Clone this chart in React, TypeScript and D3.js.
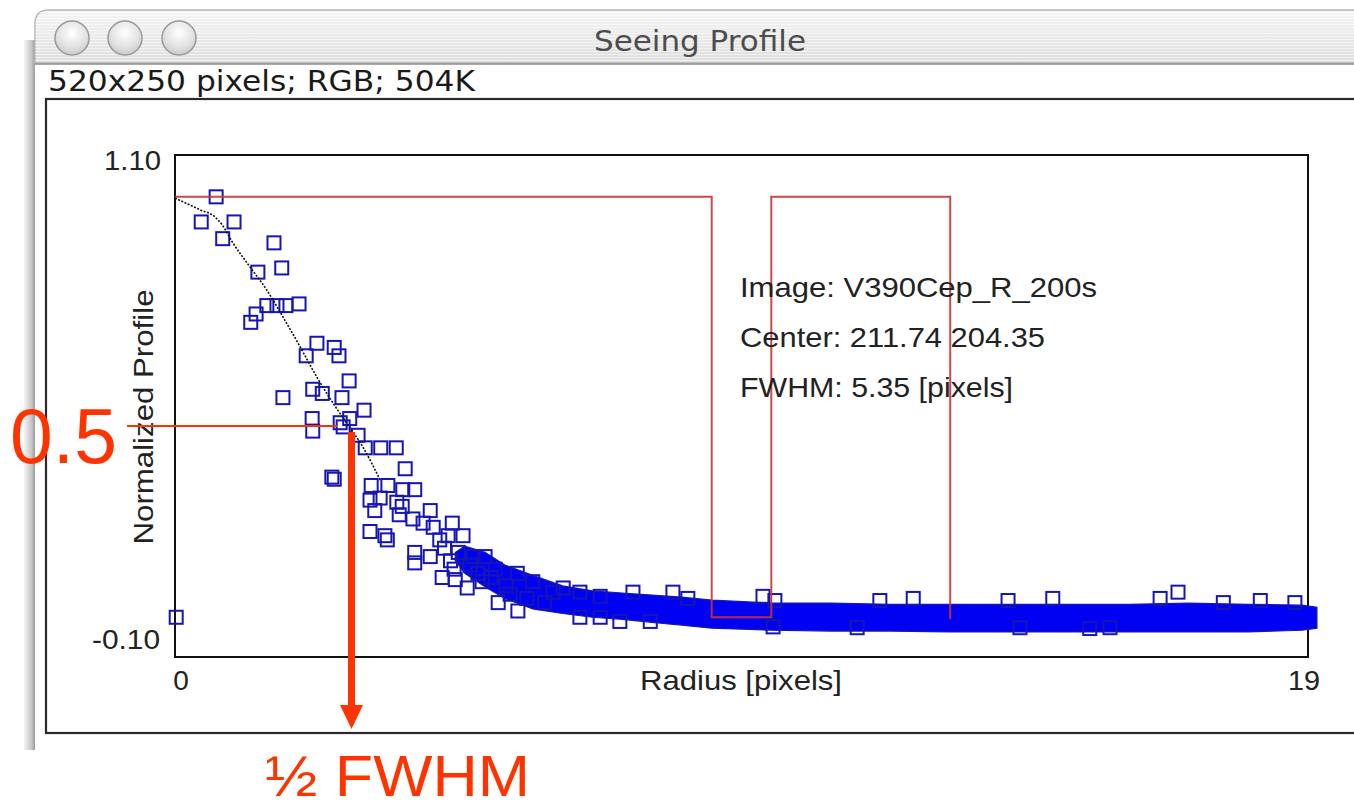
import React from "react";
import * as d3 from "d3";

// ---------------- data ----------------
const xDomain = [0, 19];
const yDomain = [-0.1, 1.1];
const xTickLabels = ["0", "19"];
const yTickLabels = ["1.10", "-0.10"];

// individual profile samples (radius, normalized value)
const sampleR = [
  0.69, 0.44, 0.99, 0.8, 1.66, 1.79, 1.39, 1.54, 1.36, 1.27, 1.71, 1.86, 2.08, 2.38, 2.67, 2.2, 2.75, 2.92,
  1.81, 2.31, 2.47, 2.8, 3.17, 2.3, 2.31, 2.93, 2.77, 2.82, 3.07, 3.19, 3.45, 3.71, 2.63, 2.67, 3.86, 3.29,
  3.57, 3.82, 4.02, 3.27, 3.44, 3.72, 3.81, 3.35, 3.76, 4.28, 3.27, 3.52, 3.56, 3.99, 4.16, 4.33, 4.65, 4.02,
  4.02, 4.44, 4.58, 4.83, 4.28, 4.48, 4.7, 4.9, 5.0, 5.2, 5.37, 5.42, 5.75, 5.74, 6.0, 6.34, 6.51, 6.79,
  7.13, 7.68, 8.35, 6.79, 7.13, 7.46, 7.97, 0.02,
  4.52, 4.62, 4.75, 4.95, 5.08, 5.3, 5.55, 4.68, 5.15, 5.62, 5.9, 6.2,
  8.6, 9.86, 10.06, 11.82, 12.38, 13.97, 14.72, 16.52, 16.82, 17.58, 18.2, 18.78,
  10.03, 11.44, 14.17, 15.34, 15.68,
];
const sampleV = [
  1.0, 0.94, 0.94, 0.9, 0.89, 0.83, 0.82, 0.74, 0.72, 0.7, 0.74, 0.74, 0.744, 0.65, 0.64, 0.62, 0.62, 0.56,
  0.52, 0.54, 0.53, 0.52, 0.49, 0.47, 0.44, 0.47, 0.46, 0.45, 0.43, 0.4, 0.4, 0.4, 0.33, 0.325, 0.35, 0.31,
  0.31, 0.3, 0.3, 0.275, 0.28, 0.27, 0.26, 0.25, 0.24, 0.25, 0.2, 0.19, 0.18, 0.23, 0.22, 0.21, 0.22, 0.15,
  0.125, 0.18, 0.19, 0.19, 0.14, 0.09, 0.085, 0.065, 0.14, 0.14, 0.11, 0.03, 0.01, 0.1, 0.08, 0.055, 0.065, 0.055,
  0.045, 0.055, 0.055, -0.005, -0.005, -0.015, -0.015, -0.005,
  0.16, 0.13, 0.15, 0.12, 0.1, 0.09, 0.07, 0.11, 0.08, 0.05, 0.04, 0.03,
  0.04, 0.045, 0.035, 0.035, 0.04, 0.035, 0.04, 0.04, 0.055, 0.03, 0.035, 0.03,
  -0.028, -0.03, -0.03, -0.032, -0.03,
];

// dense background band of overlapping samples (outer edges)
const bandR = [4.7, 4.86, 5.2, 5.53, 6.0, 6.5, 7.0, 7.5, 8.0, 8.5, 9.0, 10.0, 11.0, 12.0, 13.0, 14.0, 15.0, 16.0, 17.0, 18.0, 18.9, 19.15];
const bandTop = [0.15, 0.165, 0.15, 0.12, 0.095, 0.07, 0.058, 0.053, 0.048, 0.043, 0.036, 0.029, 0.029, 0.026, 0.026, 0.026, 0.026, 0.026, 0.029, 0.026, 0.024, 0.019];
const bandBottom = [0.13, 0.1, 0.068, 0.04, 0.015, 0.004, -0.005, -0.01, -0.017, -0.024, -0.031, -0.036, -0.038, -0.038, -0.04, -0.04, -0.04, -0.04, -0.04, -0.04, -0.036, -0.031];

// fitted profile (dotted curve)
const fitR = [0, 0.42, 0.67, 0.79, 0.97, 1.26, 1.54, 1.81, 2.1, 2.38, 2.65, 2.88, 3.15, 3.44];
const fitV = [0.997, 0.969, 0.952, 0.933, 0.89, 0.832, 0.777, 0.713, 0.641, 0.569, 0.507, 0.459, 0.402, 0.323];

// red step profile
const stepR = [0, 9, 9, 10, 10, 13, 13];
const stepV = [1, 1, -0.005, -0.005, 1, 1, -0.01];

const infoLines = ["Image: V390Cep_R_200s", "Center: 211.74 204.35", "FWHM: 5.35 [pixels]"];
const infoWidths = [357, 305, 273];

const W = 1354;
const H = 807;
const plot = { left: 175, right: 1308, top: 155, bottom: 657 };
const SQ = 13;

export default function App() {
  const x = d3.scaleLinear().domain(xDomain).range([plot.left, plot.right]);
  const y = d3.scaleLinear().domain(yDomain).range([plot.bottom, plot.top]);

  const samples = sampleR.map((r, i) => ({ r, v: sampleV[i] }));
  const band = bandR.map((r, i) => ({ r, t: bandTop[i], b: bandBottom[i] }));
  const areaGen = d3
    .area<{ r: number; t: number; b: number }>()
    .x((d) => x(d.r))
    .y0((d) => y(d.b))
    .y1((d) => y(d.t));
  const fitLine = d3
    .line<number>()
    .x((_, i) => x(fitR[i]))
    .y((v) => y(v))
    .curve(d3.curveMonotoneX);
  const stepLine = d3
    .line<number>()
    .x((_, i) => x(stepR[i]))
    .y((v) => y(v));

  const plotFont = "'Liberation Sans', Arial, Helvetica, sans-serif";
  const uiFont = "'DejaVu Sans', 'Noto Sans', sans-serif";
  const red = "#ff3300";

  return (
    <svg
      width={W}
      height={H}
      viewBox={`0 0 ${W} ${H}`}
      style={{ position: "absolute", left: 0, top: 0, background: "#fff" }}
    >
      <defs>
        <linearGradient id="tb" x1="0" y1="0" x2="0" y2="1">
          <stop offset="0" stopColor="#f5f5f5" />
          <stop offset="1" stopColor="#dedede" />
        </linearGradient>
        <pattern id="pin" width="4" height="3" patternUnits="userSpaceOnUse">
          <rect width="4" height="1" fill="rgba(255,255,255,0.55)" />
        </pattern>
        <linearGradient id="side" x1="0" y1="0" x2="1" y2="0">
          <stop offset="0" stopColor="#f4f4f4" />
          <stop offset="0.7" stopColor="#c4c4c4" />
          <stop offset="1" stopColor="#9a9a9a" />
        </linearGradient>
        <radialGradient id="btn" cx="0.5" cy="0.35" r="0.7">
          <stop offset="0" stopColor="#ffffff" />
          <stop offset="0.6" stopColor="#e2e2e2" />
          <stop offset="1" stopColor="#c6c6c6" />
        </radialGradient>
      </defs>

      {/* window chrome */}
      <rect x={24} y={40} width={11} height={710} fill="url(#side)" />
      <path
        d={`M35,63 L35,24 Q35,10 49,10 L${W + 5},10 L${W + 5},63 Z`}
        fill="url(#tb)"
        stroke="#b5b5b5"
        strokeWidth={1.5}
      />
      <path d={`M35,63 L35,24 Q35,10 49,10 L${W + 5},10 L${W + 5},63 Z`} fill="url(#pin)" />
      <line x1={35} x2={W} y1={64} y2={64} stroke="#8e8e8e" strokeWidth={1.5} />
      {[72, 125, 179].map((cx) => (
        <circle key={cx} cx={cx} cy={38} r={17} fill="url(#btn)" stroke="#9a9a9a" strokeWidth={1.5} />
      ))}
      <text x={700} y={51} textAnchor="middle" fontFamily={uiFont} fontSize={28} fill="#4d4d4d" textLength={212} lengthAdjust="spacingAndGlyphs">
        Seeing Profile
      </text>
      <text x={48} y={91} fontFamily={uiFont} fontSize={28} fill="#1a1a1a" textLength={427} lengthAdjust="spacingAndGlyphs">
        520x250 pixels; RGB; 504K
      </text>

      {/* image frame */}
      <rect x={46} y={99} width={W} height={634} fill="#fff" stroke="#2a2a2a" strokeWidth={2.2} />

      {/* plot frame */}
      <rect x={plot.left} y={plot.top} width={plot.right - plot.left} height={plot.bottom - plot.top} fill="#fff" stroke="#111" strokeWidth={2} />

      {/* dense band of samples */}
      <path d={areaGen(band) || ""} fill="#0000f2" stroke="#1a1aa8" strokeWidth={1.2} />

      {/* samples */}
      {samples.map((d, i) => (
        <rect
          key={i}
          x={x(d.r) - SQ / 2}
          y={y(d.v) - SQ / 2}
          width={SQ}
          height={SQ}
          fill="none"
          stroke="#1616b4"
          strokeWidth={2}
        />
      ))}

      {/* red step profile (drawn over the samples) */}
      <path d={stepLine(stepV) || ""} fill="none" stroke="#c93434" strokeWidth={2} strokeOpacity={0.9} />

      {/* fitted curve */}
      <path d={fitLine(fitV) || ""} fill="none" stroke="#111" strokeWidth={1.6} strokeDasharray="2,1.5" />

      {/* axis labels */}
      <g fontFamily={plotFont} fontSize={28} fill="#222">
        <text x={161} y={170} textAnchor="end" textLength={57} lengthAdjust="spacingAndGlyphs">{yTickLabels[0]}</text>
        <text x={160} y={649} textAnchor="end" textLength={68} lengthAdjust="spacingAndGlyphs">{yTickLabels[1]}</text>
        <text x={x(0) + 6} y={690} textAnchor="middle">{xTickLabels[0]}</text>
        <text x={x(19) - 4} y={690} textAnchor="middle" textLength={32} lengthAdjust="spacingAndGlyphs">{xTickLabels[1]}</text>
        <text x={741} y={690} textAnchor="middle" textLength={202} lengthAdjust="spacingAndGlyphs">Radius [pixels]</text>
        <text transform="translate(153,417) rotate(-90)" textAnchor="middle" textLength={255} lengthAdjust="spacingAndGlyphs">
          Normalized Profile
        </text>
        {infoLines.map((t, i) => (
          <text key={t} x={740} y={297 + i * 50} textLength={infoWidths[i]} lengthAdjust="spacingAndGlyphs">
            {t}
          </text>
        ))}
      </g>

      {/* annotations */}
      <line x1={127} x2={337} y1={426} y2={426} stroke={red} strokeWidth={2} />
      <text x={10} y={463} fontFamily={plotFont} fontSize={78} fill={red} textLength={107} lengthAdjust="spacingAndGlyphs">
        0.5
      </text>
      <line x1={351.5} x2={351.5} y1={432} y2={708} stroke={red} strokeWidth={7} />
      <path d="M340,705 L363,705 L351.5,729 Z" fill={red} />
      <text x={265} y={796} fontFamily={plotFont} fontSize={58} fill={red} textLength={265} lengthAdjust="spacingAndGlyphs">
        ½ FWHM
      </text>
    </svg>
  );
}
